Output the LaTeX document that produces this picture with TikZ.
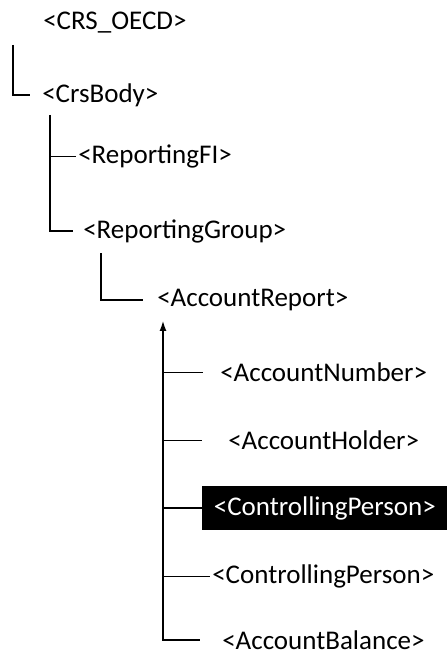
\documentclass[tikz,border=0pt]{standalone}
\usepackage{fontspec}
\setmainfont{Carlito}
\usetikzlibrary{arrows,arrows.meta,calc}
\tikzset{
    tag/.style = {anchor=west, inner sep=0pt,
        font=\fontsize{19.2}{23}\selectfont},
    fork/.style = {coordinate},
    branch/.style = {draw, line width=1pt},
    twig/.style = {draw, line width=0.7pt},
    trunk/.style = {draw, line width=1.6pt},
    marked/.style = {tag, fill=black, text=white,
        minimum width=6.125cm, minimum height=1.1cm}
}
\begin{document}
\begin{tikzpicture}[x=0.025cm, y=-0.025cm, >={Latex[length=0.27cm,width=0.17cm]}]
    \useasboundingbox (0,0) rectangle (447,656);
    % element names
    \node [tag] (crs) at (43,23) {<CRS\_OECD>};
    \node [tag] (body) at (42,95) {<CrsBody>};
    \node [tag] (fi) at (78,156) {<ReportingFI>};
    \node [tag] (group) at (83,231) {<ReportingGroup>};
    \node [tag] (report) at (157,300) {<AccountReport>};
    \node [tag] (number) at (220,372) {<AccountNumber>};
    \node [tag] (holder) at (228,440) {<AccountHolder>};
    \node [marked] (ctrlA) at (202,508) {<ControllingPerson>};
    \node [tag] (ctrlB) at (212,576) {<ControllingPerson>};
    \node [tag] (balance) at (222,640) {<AccountBalance>};
    % where the branches start
    \node [fork, name=crsfork] at (13,45) {};
    \node [fork, name=bodyfork] at (50,115) {};
    \node [fork, name=groupfork] at (101,253) {};
    \node [fork, name=trunk] at (163,320) {};
    % upper tree
    \draw [branch, shorten >=0.3cm] (crsfork) |- (body.west);
    \draw [branch, shorten >=0.25cm] (bodyfork) |- (group.west);
    \draw [twig, shorten >=0.05cm] (fi.west -| bodyfork) -- (fi.west);
    \draw [branch, shorten >=0.35cm] (groupfork) |- (report.west);
    % children of AccountReport
    \draw [trunk, <-, shorten >=0.55cm] (trunk) |- (balance.west);
    \draw [twig, shorten >=0.425cm] (number.west -| trunk) -- (number.west);
    \draw [twig, shorten >=0.65cm] (holder.west -| trunk) -- (holder.west);
    \draw [trunk] (ctrlA.west -| trunk) -- (ctrlA.west);
    \draw [twig, shorten >=0.05cm] (ctrlB.west -| trunk) -- (ctrlB.west);
\end{tikzpicture}
\end{document}
